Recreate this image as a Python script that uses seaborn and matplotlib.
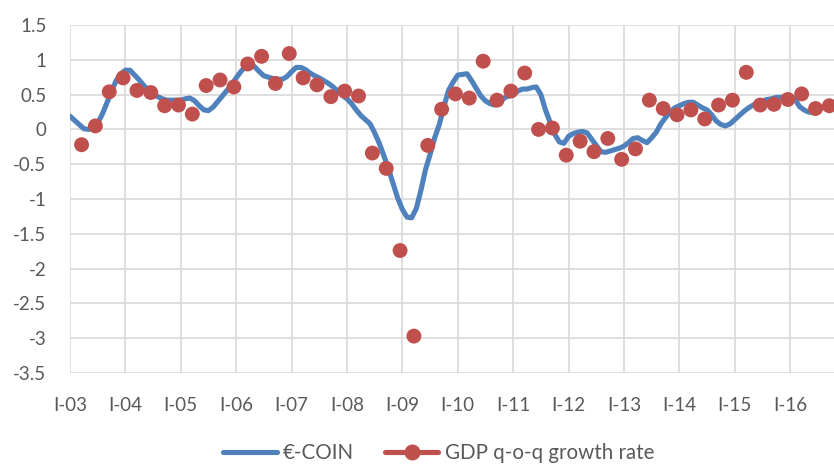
import matplotlib
matplotlib.use("Agg")
import matplotlib.pyplot as plt
from matplotlib.lines import Line2D
import seaborn as sns
import pandas as pd
import numpy as np

# monthly €-COIN, Jan 2003 onwards
coin = [0.19, 0.13, 0.07, 0.01, 0.00, 0.04, 0.09, 0.22, 0.38, 0.55, 0.70, 0.80,
        0.85, 0.85, 0.78, 0.71, 0.63, 0.56, 0.51, 0.47, 0.44, 0.42, 0.42, 0.42,
        0.42, 0.44, 0.45, 0.41, 0.34, 0.28, 0.27, 0.32, 0.40, 0.48, 0.56, 0.64,
        0.74, 0.83, 0.90, 0.94, 0.90, 0.83, 0.77, 0.75, 0.73, 0.72, 0.72, 0.76,
        0.83, 0.89, 0.89, 0.86, 0.81, 0.77, 0.74, 0.70, 0.66, 0.61, 0.55, 0.49,
        0.44, 0.37, 0.28, 0.20, 0.14, 0.08, -0.05, -0.20, -0.38, -0.57, -0.78, -0.99,
        -1.15, -1.26, -1.27, -1.14, -0.88, -0.58, -0.36, -0.12, 0.07, 0.33, 0.56, 0.68,
        0.78, 0.79, 0.80, 0.70, 0.59, 0.48, 0.41, 0.37, 0.35, 0.38, 0.45, 0.48,
        0.50, 0.55, 0.58, 0.58, 0.60, 0.61, 0.50, 0.28, 0.10, -0.07, -0.18, -0.20,
        -0.10, -0.06, -0.04, -0.03, -0.05, -0.14, -0.23, -0.32, -0.33, -0.31, -0.29, -0.27,
        -0.24, -0.19, -0.13, -0.12, -0.16, -0.19, -0.12, -0.04, 0.08, 0.17, 0.25, 0.31,
        0.34, 0.37, 0.39, 0.39, 0.35, 0.31, 0.28, 0.21, 0.12, 0.07, 0.05, 0.08,
        0.14, 0.20, 0.26, 0.31, 0.35, 0.38, 0.41, 0.43, 0.44, 0.46, 0.46, 0.47,
        0.48, 0.44, 0.33, 0.28, 0.25, 0.24, 0.27, 0.31, 0.33, 0.34]

# quarterly GDP q-o-q growth, 2003Q1 onwards
gdp = [-0.22, 0.05, 0.54, 0.74, 0.56, 0.53, 0.34, 0.35, 0.22, 0.63, 0.71, 0.61,
       0.94, 1.05, 0.66, 1.09, 0.74, 0.64, 0.47, 0.55, 0.48, -0.34, -0.56, -1.74,
       -2.97, -0.23, 0.29, 0.51, 0.45, 0.98, 0.42, 0.55, 0.81, 0.00, 0.02, -0.37,
       -0.17, -0.32, -0.13, -0.43, -0.28, 0.42, 0.30, 0.21, 0.28, 0.15, 0.35, 0.42,
       0.82, 0.35, 0.36, 0.43, 0.51, 0.30, 0.34]

years = ["03", "04", "05", "06", "07", "08", "09", "10", "11", "12", "13", "14", "15", "16"]
tick_labels = ["I-" + y for y in years]

coin_df = pd.DataFrame({"month": np.arange(len(coin)), "value": coin})
gdp_df = pd.DataFrame({"month": np.arange(len(gdp)) * 3 + 2.5, "value": gdp})

BLUE = "#4F81BD"
RED = "#C0504D"

sns.set_style("white")
plt.rcParams["font.family"] = ["Lato", "DejaVu Sans"]

fig = plt.figure(figsize=(8.34, 4.66), dpi=100)
ax = fig.add_axes([70 / 834, 1 - 373 / 466, 1 - 70 / 834, (373 - 25) / 466])

sns.lineplot(data=coin_df, x="month", y="value", ax=ax, color=BLUE, linewidth=3.7,
             solid_capstyle="round", zorder=3)
sns.scatterplot(data=gdp_df, x="month", y="value", ax=ax, color=RED, s=115,
                edgecolor="none", zorder=4)

ax.set_xlim(0, 165.5)
ax.set_ylim(-3.5, 1.5)
ax.set_xticks(np.arange(len(years)) * 12)
ax.set_xticklabels(tick_labels)
ax.set_yticks(np.arange(-3.5, 1.51, 0.5))
ax.set_yticklabels([f"{v:g}" for v in np.arange(-3.5, 1.51, 0.5)])
ax.grid(True, color="#d9d9d9", linewidth=1.2)
ax.set_axisbelow(True)
for s in ax.spines.values():
    s.set_visible(False)
ax.tick_params(axis="both", length=0, labelsize=13.5, colors="#595959")
ax.tick_params(axis="x", pad=17)
ax.tick_params(axis="y", pad=17)
ax.set_xlabel("")
ax.set_ylabel("")

handles = [Line2D([], [], color=BLUE, linewidth=3.7),
           Line2D([], [], color=RED, linewidth=3.7, marker="o", markersize=10.5)]
fig.legend(handles, ["€-COIN", "GDP q-o-q growth rate"], loc="center",
           bbox_to_anchor=(0.526, 1 - 453 / 466), ncol=2, frameon=False,
           fontsize=14.8, handlelength=2.6, columnspacing=1.5, handletextpad=0.3,
           labelcolor="#595959", borderpad=0.1)

fig.savefig("out.png", dpi=100)
